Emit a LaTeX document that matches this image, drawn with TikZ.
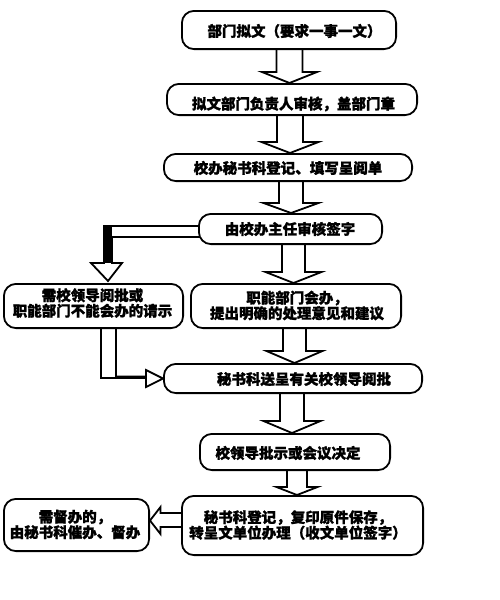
\documentclass[tikz,border=0pt]{standalone}
\usepackage{fontspec}
\newfontfamily\cjk{Noto Sans CJK SC}[BoldFeatures={FakeBold=1.3}]
\usetikzlibrary{calc,backgrounds}
\tikzset{
  box/.style={draw=black, fill=white, line width=1.8pt, rounded corners=12pt, inner sep=0pt},
  txt/.style={font=\cjk\bfseries\fontsize{14.5}{15.5}\selectfont, align=center, inner sep=0pt},
  blockarrow/.style={draw=black, fill=white, line width=1.8pt, line join=miter},
}
\newcommand\bx[5]{\node[box, minimum width={#4-#2-1.8}, minimum height={#5-#3-1.8}] (#1) at ({(#2+#4)/2},{(#3+#5)/2}) {};}
\newcommand\dnarrow[6]{%
  \draw[blockarrow] let \p1=(#1.south), \p2=(#2.north) in
  (#3pt-#4pt,\y1+4pt) -- (#3pt-#4pt,\y2+#6pt) -- (#3pt-#5pt,\y2+#6pt) -- (#3pt,\y2) --
  (#3pt+#5pt,\y2+#6pt) -- (#3pt+#4pt,\y2+#6pt) -- (#3pt+#4pt,\y1+4pt);}
\begin{document}
\begin{tikzpicture}[x=1pt,y=-1pt]
\useasboundingbox (0,0) rectangle (500,600);
% boxes
\bx{b1}{181}{10}{397}{50}
\bx{b2}{166}{83}{418}{116}
\bx{b3}{163}{153}{413}{182}
\bx{b4}{198}{213}{383}{245}
\bx{b5}{3}{283}{184}{329}
\bx{b6}{190}{283}{402}{329}
\bx{b7}{163}{363}{423}{394}
\bx{b8}{199}{433}{391}{471}
\bx{b9}{181}{495}{424}{556}
\bx{b10}{3}{498}{150}{552}
% texts
\node[txt] (t1) at (294.5,31) {部门拟文（要求一事一文）};
\node[txt] (t2) at (293.5,104) {拟文部门负责人审核，盖部门章};
\node[txt] (t3) at (288,168) {校办秘书科登记、填写呈阅单};
\node[txt] (t4) at (290,229) {由校办主任审核签字};
\node[txt] (t5) at (92.5,303) {需校领导阅批或\\职能部门不能会办的请示};
\node[txt] (t6) at (297,305.5) {职能部门会办，\\提出明确的处理意见和建议};
\node[txt] (t7) at (304,379) {秘书科送呈有关校领导阅批};
\node[txt] (t8) at (288,453) {校领导批示或会议决定};
\node[txt] (t9) at (298,525) {秘书科登记，复印原件保存，\\转呈文单位办理（收文单位签字）};
\node[txt] (t10) at (75,524.5) {需督办的，\\由秘书科催办、督办};
% arrows
\begin{pgfonlayer}{background}
\fill[white] (0,0) rectangle (500,600);
\dnarrow{b1}{b2}{289.5}{13}{27.5}{11}
\dnarrow{b2}{b3}{290}{13}{28.5}{11}
\dnarrow{b3}{b4}{291}{12}{27.5}{10}
\dnarrow{b4}{b6}{293.5}{11.5}{28}{11}
\dnarrow{b6}{b7}{294.5}{11.5}{28}{12}
\dnarrow{b7}{b8}{292}{12}{28.5}{12}
\dnarrow{b8}{b9}{297}{10}{20.5}{8}
% bent arrow b4 -> b5
\draw[blockarrow] let \p1=(b4.center), \p2=(b5.north) in
  (\x1,-226pt) -- (104pt,-226pt) -- (104pt,\y2+20pt) -- (91pt,\y2+20pt) -- (108pt,\y2+2pt) --
  (122pt,\y2+20pt) -- (112pt,\y2+20pt) -- (112pt,-237pt) -- (\x1,-237pt);
\fill[black] let \p2=(b5.north) in (104pt,-226pt) rectangle (112pt,\y2+20pt);
% L arrow b5 -> b7
\draw[blockarrow] let \p1=(b5.south), \p2=(b7.west) in
  (101pt,\y1+6pt) -- (101pt,-378pt) -- (146pt,-378pt) -- (146pt,-387pt) -- (\x2,-378.5pt) --
  (146pt,-370pt) -- (146pt,-376.5pt) -- (116pt,-376.5pt) -- (116pt,\y1+6pt);
% arrow b9 -> b10
\draw[blockarrow] let \p1=(b9.west), \p2=(b10.east) in
  (\x1+6pt,-513pt) -- (160.5pt,-513pt) -- (160.5pt,-507pt) -- (\x2,-520.5pt) --
  (160.5pt,-534pt) -- (160.5pt,-527pt) -- (\x1+6pt,-527pt);
\end{pgfonlayer}
\end{tikzpicture}
\end{document}
